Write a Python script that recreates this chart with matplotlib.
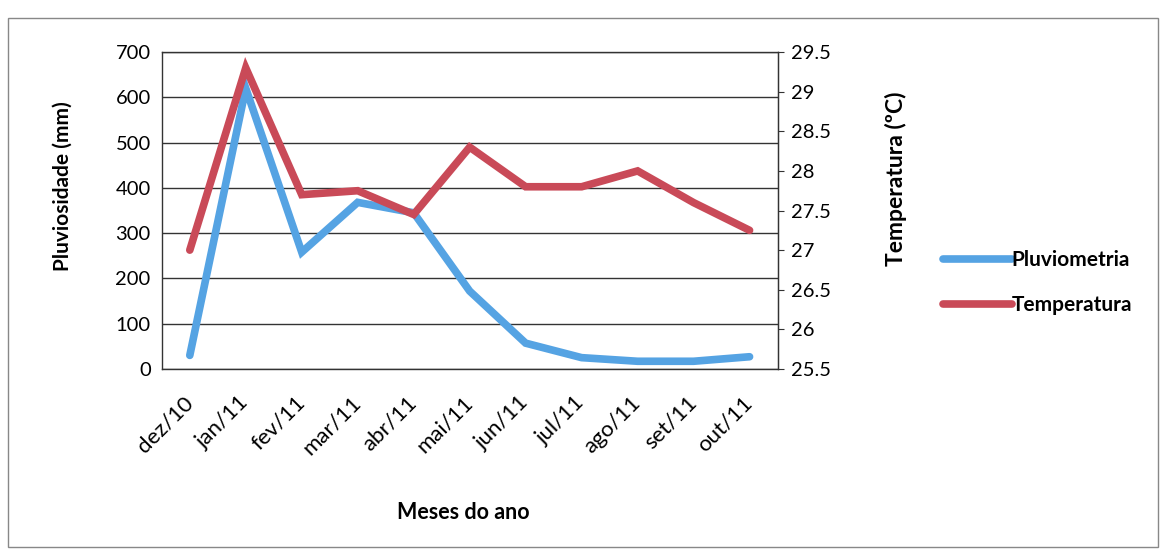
import matplotlib
matplotlib.use("Agg")
import matplotlib.pyplot as plt
from matplotlib.patches import Rectangle

# Data
months = ["dez/10", "jan/11", "fev/11", "mar/11", "abr/11", "mai/11",
          "jun/11", "jul/11", "ago/11", "set/11", "out/11"]
pluviometria = [30, 620, 258, 368, 345, 172, 57, 25, 17, 17, 27]
temperatura = [27.0, 29.3, 27.7, 27.75, 27.45, 28.3, 27.8, 27.8, 28.0, 27.6, 27.25]

left_ticks = [0, 100, 200, 300, 400, 500, 600, 700]
right_ticks = [25.5, 26, 26.5, 27, 27.5, 28, 28.5, 29, 29.5]
right_labels = ["25.5", "26", "26.5", "27", "27.5", "28", "28.5", "29", "29.5"]

BLUE = "#55A3E3"
RED = "#C94A58"
FONT = "Lato"

fig = plt.figure(figsize=(11.64, 5.54), dpi=100)
ax = fig.add_axes([0.139, 0.334, 0.529, 0.572])
ax2 = ax.twinx()

x = list(range(len(months)))
l1, = ax.plot(x, pluviometria, color=BLUE, linewidth=5.5, solid_capstyle="round",
              solid_joinstyle="miter", label="Pluviometria")
l2, = ax2.plot(x, temperatura, color=RED, linewidth=5.5, solid_capstyle="round",
               solid_joinstyle="miter", label="Temperatura")

ax.set_xlim(-0.5, len(months) - 0.5)
ax.set_ylim(0, 700)
ax2.set_ylim(25.5, 29.5)

ax.set_yticks(left_ticks)
ax.set_yticklabels([str(v) for v in left_ticks], fontsize=14.5, family=FONT)
ax2.set_yticks(right_ticks)
ax2.set_yticklabels(right_labels, fontsize=14.5, family=FONT)

ax.set_xticks(x)
ax.set_xticklabels(months, rotation=45, ha="right", va="center", fontsize=16,
                   family=FONT, rotation_mode="anchor")
ax.tick_params(axis="x", length=0, pad=22)
ax.tick_params(axis="y", length=0, pad=8)
ax2.tick_params(axis="y", length=4, width=0.8, color="#333333", pad=6)

ax.grid(axis="y", color="#333333", linewidth=1.0)
ax.set_axisbelow(True)
for sp in ax.spines.values():
    sp.set_color("#333333")
    sp.set_linewidth(1.0)
ax2.spines["top"].set_visible(False)
ax2.spines["left"].set_visible(False)
ax2.spines["bottom"].set_visible(False)
ax2.spines["right"].set_color("#333333")

ax.set_ylabel("Pluviosidade (mm)", fontsize=15, fontweight="bold", family=FONT)
ax.yaxis.set_label_coords(-0.145, 0.577)
ax2.set_ylabel("Temperatura (ºC)", fontsize=16.5, fontweight="bold", family=FONT)
ax2.yaxis.set_label_coords(1.175, 0.60)
ax.set_xlabel("Meses do ano", fontsize=15.5, fontweight="bold", family=FONT)
ax.xaxis.set_label_coords(0.49, -0.42)

fig.legend(handles=[l1, l2], loc="center left", bbox_to_anchor=(0.81, 0.49),
           frameon=False, handlelength=3.3, handletextpad=0.0, labelspacing=1.2,
           borderpad=0.0, borderaxespad=0.0,
           prop={"family": FONT, "weight": "bold", "size": 15})

fig.patches.append(Rectangle((0.007, 0.012), 0.988, 0.955, transform=fig.transFigure,
                             fill=False, edgecolor="#888888", linewidth=1.0))

fig.savefig("out.png", dpi=100)
